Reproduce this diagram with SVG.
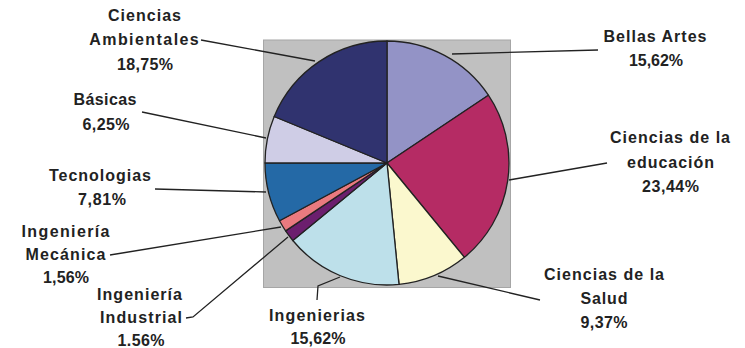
<svg xmlns="http://www.w3.org/2000/svg" width="745" height="348" viewBox="0 0 745 348">
<style>
.lbl{font-family:"Liberation Sans",Arial,sans-serif;font-weight:bold;font-size:16px;fill:#222;text-anchor:middle}
.sl{stroke:#222;stroke-width:1.3;stroke-linejoin:round}
.ld{fill:none;stroke:#222;stroke-width:1.3}
</style>
<rect width="745" height="348" fill="#fff"/>
<rect id="plot-area" x="263.5" y="40" width="247" height="247.5" fill="#C0C0C0" stroke="#A6A6A6" stroke-width="1"/>
<g id="pie">
<path id="s-bellas" class="sl" fill="#9393C6" d="M387,163 L387,41 A122,122 0 0,1 488.4,95.2 Z"/>
<path id="s-educacion" class="sl" fill="#B52B64" d="M387,163 L488.4,95.2 A122,122 0 0,1 464.4,257.3 Z"/>
<path id="s-salud" class="sl" fill="#FBF8CE" d="M387,163 L464.4,257.3 A122,122 0 0,1 399,284.4 Z"/>
<path id="s-ingenierias" class="sl" fill="#BDE0EA" d="M387,163 L399,284.4 A122,122 0 0,1 292.8,240.5 Z"/>
<path id="s-industrial" class="sl" fill="#6C1F6E" d="M387,163 L292.8,240.5 A122,122 0 0,1 285.6,230.9 Z"/>
<path id="s-mecanica" class="sl" fill="#E97A7F" d="M387,163 L285.6,230.9 A122,122 0 0,1 279.5,220.7 Z"/>
<path id="s-tecnologias" class="sl" fill="#2469A6" d="M387,163 L279.5,220.7 A122,122 0 0,1 265,162.9 Z"/>
<path id="s-basicas" class="sl" fill="#CFCDE6" d="M387,163 L265,162.9 A122,122 0 0,1 274.2,116.5 Z"/>
<path id="s-ambientales" class="sl" fill="#30336F" d="M387,163 L274.2,116.5 A122,122 0 0,1 387,41 Z"/>
</g>
<g id="connectors">
<path class="ld" d="M201,40 L315,61"/>
<path class="ld" d="M452,54 L598,50"/>
<path class="ld" d="M142,112 L266,138"/>
<path class="ld" d="M155,189 L266,192"/>
<path class="ld" d="M110,255 L281,227"/>
<path class="ld" d="M186,318 L193,317 L288,237"/>
<path class="ld" d="M317,300 L318,286 L340,277"/>
<path class="ld" d="M509,180 L607,163"/>
<path class="ld" d="M438,276 L540,300"/>
</g>
<g id="label-ambientales">
<text class="lbl" x="144.5" y="21" textLength="73" lengthAdjust="spacing">Ciencias</text>
<text class="lbl" x="144" y="44.5" textLength="109.5" lengthAdjust="spacing">Ambientales</text>
<text class="lbl" x="145" y="69.5" textLength="56" lengthAdjust="spacing">18,75%</text>
</g>
<g id="label-bellas">
<text class="lbl" x="655" y="41.5" textLength="103" lengthAdjust="spacing">Bellas Artes</text>
<text class="lbl" x="656" y="65.5" textLength="54" lengthAdjust="spacing">15,62%</text>
</g>
<g id="label-educacion">
<text class="lbl" x="670" y="143" textLength="120" lengthAdjust="spacing">Ciencias de la</text>
<text class="lbl" x="670.5" y="168" textLength="87" lengthAdjust="spacing">educación</text>
<text class="lbl" x="670.5" y="192" textLength="57" lengthAdjust="spacing">23,44%</text>
</g>
<g id="label-salud">
<text class="lbl" x="604" y="279.5" textLength="120" lengthAdjust="spacing">Ciencias de la</text>
<text class="lbl" x="604" y="303.5" textLength="47" lengthAdjust="spacing">Salud</text>
<text class="lbl" x="604" y="328" textLength="47" lengthAdjust="spacing">9,37%</text>
</g>
<g id="label-ingenierias">
<text class="lbl" x="317" y="320.5" textLength="96" lengthAdjust="spacing">Ingenierias</text>
<text class="lbl" x="318" y="343.5" textLength="55" lengthAdjust="spacing">15,62%</text>
</g>
<g id="label-industrial">
<text class="lbl" x="139.5" y="300" textLength="85" lengthAdjust="spacing">Ingeniería</text>
<text class="lbl" x="141" y="322.5" textLength="82" lengthAdjust="spacing">Industrial</text>
<text class="lbl" x="141" y="346" textLength="47" lengthAdjust="spacing">1.56%</text>
</g>
<g id="label-mecanica">
<text class="lbl" x="65.5" y="236.5" textLength="88" lengthAdjust="spacing">Ingeniería</text>
<text class="lbl" x="65.5" y="260" textLength="80" lengthAdjust="spacing">Mecánica</text>
<text class="lbl" x="66" y="283" textLength="46" lengthAdjust="spacing">1,56%</text>
</g>
<g id="label-tecnologias">
<text class="lbl" x="100" y="181" textLength="102" lengthAdjust="spacing">Tecnologias</text>
<text class="lbl" x="102" y="204.5" textLength="48" lengthAdjust="spacing">7,81%</text>
</g>
<g id="label-basicas">
<text class="lbl" x="105" y="104.5" textLength="63" lengthAdjust="spacing">Básicas</text>
<text class="lbl" x="106" y="129.5" textLength="47" lengthAdjust="spacing">6,25%</text>
</g>
</svg>
